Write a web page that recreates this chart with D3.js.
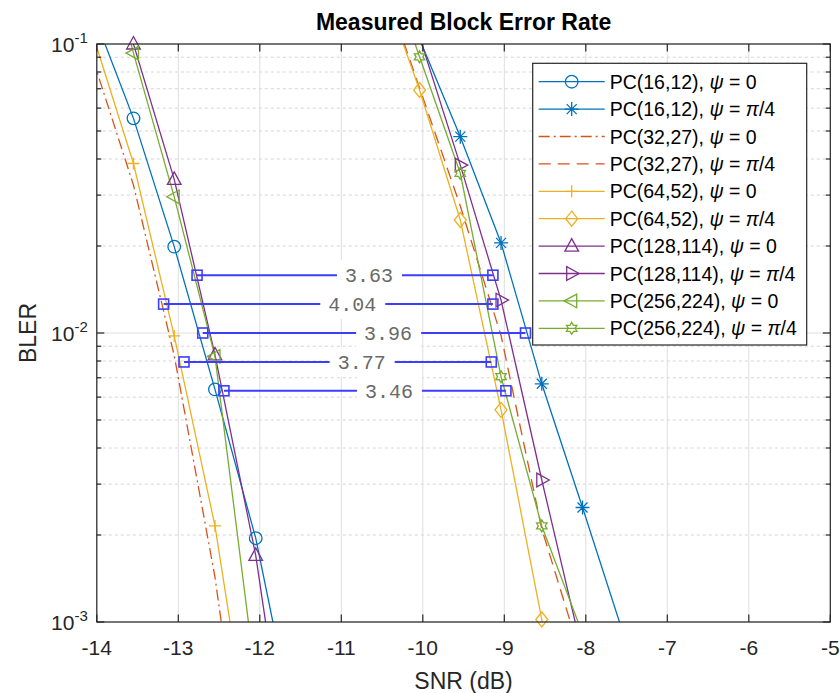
<!DOCTYPE html>
<html>
<head>
<meta charset="utf-8">
<script src="https://cdn.jsdelivr.net/npm/d3@7"></script>
<style>
  body { margin: 0; background: #fff; }
  svg { display: block; }
  text { font-family: "Liberation Sans", Arial, Helvetica, sans-serif; }
</style>
</head>
<body>
<svg id="chart" width="840" height="693"></svg>
<script>
// SNR sweep points (dB) for the two phase settings
const snrPsi0   = [-14.05, -13.55, -13.05, -12.55, -12.05, -11.55];
const snrPsiPi4 = [-10.54, -10.04, -9.54, -9.04, -8.54, -8.04, -7.54];

// Measured BLER per code and phase
const bler16Psi0    = [0.129, 0.0553, 0.0199, 0.00638, 0.00195, 0.0004];
const bler16PsiPi4  = [0.21, 0.104, 0.0478, 0.0205, 0.00667, 0.00249, 0.00091];
const bler32Psi0    = [0.089, 0.0325, 0.00836, 0.00143, 0.00014, 0.00002];
const bler32PsiPi4  = [0.18, 0.0705, 0.0275, 0.0098, 0.0021, 0.00073, 0.0002];
const bler64Psi0    = [0.108, 0.0386, 0.00977, 0.00215, 0.00027, 0.00003];
const bler64PsiPi4  = [0.174, 0.0693, 0.0246, 0.00542, 0.00102, 0.0002, 0.00004];
const bler128Psi0   = [0.295, 0.1, 0.034, 0.0084, 0.0017, 0.00019];
const bler128PsiPi4 = [0.29, 0.106, 0.0381, 0.0130, 0.0031, 0.00078, 0.0002];
const bler256Psi0   = [0.32, 0.093, 0.0296, 0.0083, 0.00063, 0.00005];
const bler256PsiPi4 = [0.232, 0.0903, 0.0357, 0.00706, 0.00215, 0.00091, 0.0004];

// SNR gap annotations: BLER level, left-curve SNR, gap in dB
const gapBler    = [0.01585, 0.01259, 0.01, 0.00794, 0.00631];
const gapSnrLeft = [-12.77, -13.18, -12.70, -12.93, -12.44];
const gapValues  = [3.63, 4.04, 3.96, 3.77, 3.46];

// Axis ticks
const xTicks = [-14, -13, -12, -11, -10, -9, -8, -7, -6, -5];
const yMajorTicks = [0.001, 0.01, 0.1];
const yTickExponents = ["-3", "-2", "-1"];

const codeNames = ["PC(16,12)", "PC(16,12)", "PC(32,27)", "PC(32,27)", "PC(64,52)", "PC(64,52)",
                   "PC(128,114)", "PC(128,114)", "PC(256,224)", "PC(256,224)"];
const psiLabels = ["0", "pi/4", "0", "pi/4", "0", "pi/4", "0", "pi/4", "0", "pi/4"];

const C = { blue: "#0072BD", orange: "#D95319", yellow: "#EDB120", purple: "#7E2F8E", green: "#77AC30" };

const series = [
  { snr: snrPsi0,   bler: bler16Psi0,    color: C.blue,   dash: null,         marker: "circle" },
  { snr: snrPsiPi4, bler: bler16PsiPi4,  color: C.blue,   dash: null,         marker: "asterisk" },
  { snr: snrPsi0,   bler: bler32Psi0,    color: C.orange, dash: "11,4,2,4",   marker: null },
  { snr: snrPsiPi4, bler: bler32PsiPi4,  color: C.orange, dash: "12,7",       marker: null },
  { snr: snrPsi0,   bler: bler64Psi0,    color: C.yellow, dash: null,         marker: "plus" },
  { snr: snrPsiPi4, bler: bler64PsiPi4,  color: C.yellow, dash: null,         marker: "diamond" },
  { snr: snrPsi0,   bler: bler128Psi0,   color: C.purple, dash: null,         marker: "triUp" },
  { snr: snrPsiPi4, bler: bler128PsiPi4, color: C.purple, dash: null,         marker: "triRight" },
  { snr: snrPsi0,   bler: bler256Psi0,   color: C.green,  dash: null,         marker: "triLeft" },
  { snr: snrPsiPi4, bler: bler256PsiPi4, color: C.green,  dash: null,         marker: "hexagram" }
].map((s, i) => ({ ...s, name: codeNames[i], psi: psiLabels[i],
                   points: s.snr.map((v, j) => [v, s.bler[j]]) }));

// Plot geometry
const plot = { left: 96.8, right: 830.3, top: 44, bottom: 622 };
const axisColor = "#262626";

const x = d3.scaleLinear().domain([-14, -5]).range([plot.left, plot.right]);
const y = d3.scaleLog().domain([1e-3, 1e-1]).range([plot.bottom, plot.top]);

const svg = d3.select("#chart");

svg.append("defs").append("clipPath").attr("id", "plotClip")
  .append("rect")
  .attr("x", plot.left).attr("y", plot.top)
  .attr("width", plot.right - plot.left).attr("height", plot.bottom - plot.top);

// Grid
const grid = svg.append("g");
const yAllTicks = y.ticks();
const isMajorY = v => yMajorTicks.includes(+v.toPrecision(3));
grid.selectAll("line.ygrid").data(yAllTicks.filter(v => !isMajorY(v)))
  .join("line")
  .attr("x1", plot.left).attr("x2", plot.right)
  .attr("y1", d => y(d)).attr("y2", d => y(d))
  .attr("stroke", "#d4d4d4").attr("stroke-width", 1).attr("stroke-dasharray", "3,3");
grid.selectAll("line.ymajor").data(yMajorTicks)
  .join("line")
  .attr("x1", plot.left).attr("x2", plot.right)
  .attr("y1", d => y(d)).attr("y2", d => y(d))
  .attr("stroke", "#dedede").attr("stroke-width", 1);
grid.selectAll("line.xgrid").data(xTicks)
  .join("line")
  .attr("x1", d => x(d)).attr("x2", d => x(d))
  .attr("y1", plot.top).attr("y2", plot.bottom)
  .attr("stroke", "#dedede").attr("stroke-width", 1);

// Marker shapes
function markerPath(type) {
  switch (type) {
    case "circle": return "M6.3,0A6.3,6.3 0 1,1 -6.3,0A6.3,6.3 0 1,1 6.3,0Z";
    case "asterisk": return "M-7,0H7M0,-7V7M-5,-5L5,5M-5,5L5,-5";
    case "plus": return "M-6,0H6M0,-6V6";
    case "diamond": return "M0,-7.5L6,0L0,7.5L-6,0Z";
    case "triUp": return "M0,-7.5L6.8,5L-6.8,5Z";
    case "triRight": return "M7.5,0L-5,-6.8L-5,6.8Z";
    case "triLeft": return "M-7.5,0L5,-6.8L5,6.8Z";
    case "hexagram": {
      let p = "";
      for (let k = 0; k < 12; k++) {
        const r = k % 2 === 0 ? 6 : 3.5;
        const a = -Math.PI / 2 + k * Math.PI / 6;
        p += (k === 0 ? "M" : "L") + (r * Math.cos(a)).toFixed(2) + "," + (r * Math.sin(a)).toFixed(2);
      }
      return p + "Z";
    }
  }
  return "";
}

// Curves
const line = d3.line().x(d => x(d[0])).y(d => y(d[1]));
const curves = svg.append("g").attr("clip-path", "url(#plotClip)");
series.forEach(s => {
  curves.append("path")
    .attr("d", line(s.points))
    .attr("fill", "none")
    .attr("stroke", s.color)
    .attr("stroke-width", 1.3)
    .attr("stroke-dasharray", s.dash);
});
const markers = svg.append("g");
series.forEach(s => {
  if (!s.marker) return;
  const inView = s.points.filter(p => p[1] <= 0.1 * 1.001 && p[1] >= 0.001 * 0.999 && p[0] >= -14 && p[0] <= -5);
  markers.selectAll(null).data(inView).join("path")
    .attr("transform", d => `translate(${x(d[0])},${y(d[1])})`)
    .attr("d", markerPath(s.marker))
    .attr("fill", "none")
    .attr("stroke", s.color)
    .attr("stroke-width", 1.3);
});

// SNR gap annotations
const annColor = "#3d3dff";
const ann = svg.append("g");
gapBler.forEach((b, i) => {
  const yy = y(b);
  const xl = x(gapSnrLeft[i]);
  const xr = x(gapSnrLeft[i] + gapValues[i]);
  ann.append("line")
    .attr("x1", xl).attr("x2", xr).attr("y1", yy).attr("y2", yy)
    .attr("stroke", annColor).attr("stroke-width", 2);
  const mid = (xl + xr) / 2;
  const bg = ann.append("rect");
  const t = ann.append("text")
    .attr("x", mid).attr("y", yy)
    .attr("dy", "0.35em")
    .attr("text-anchor", "start")
    .style("font-family", "'Liberation Mono', 'Courier New', monospace")
    .style("font-size", "20px")
    .attr("fill", "#6a6a6a")
    .text(gapValues[i].toFixed(2));
  const w = t.node().getComputedTextLength();
  bg.attr("x", mid - 8).attr("y", yy - 15).attr("width", w + 17).attr("height", 30).attr("fill", "#fff");
  [xl, xr].forEach(xx => {
    ann.append("rect")
      .attr("x", xx - 5).attr("y", yy - 5).attr("width", 10).attr("height", 10)
      .attr("fill", "none").attr("stroke", annColor).attr("stroke-width", 1.6);
  });
});

// Axes box and ticks
const axes = svg.append("g");
axes.append("rect")
  .attr("x", plot.left).attr("y", plot.top)
  .attr("width", plot.right - plot.left).attr("height", plot.bottom - plot.top)
  .attr("fill", "none").attr("stroke", axisColor).attr("stroke-width", 1.2);

const majorLen = 7.5, minorLen = 4.5;
xTicks.forEach(v => {
  axes.append("line").attr("x1", x(v)).attr("x2", x(v)).attr("y1", plot.bottom).attr("y2", plot.bottom - majorLen)
    .attr("stroke", axisColor).attr("stroke-width", 1.2);
  axes.append("line").attr("x1", x(v)).attr("x2", x(v)).attr("y1", plot.top).attr("y2", plot.top + majorLen)
    .attr("stroke", axisColor).attr("stroke-width", 1.2);
});
yAllTicks.forEach(v => {
  const len = isMajorY(v) ? majorLen : minorLen;
  axes.append("line").attr("x1", plot.left).attr("x2", plot.left + len).attr("y1", y(v)).attr("y2", y(v))
    .attr("stroke", axisColor).attr("stroke-width", 1.2);
  axes.append("line").attr("x1", plot.right).attr("x2", plot.right - len).attr("y1", y(v)).attr("y2", y(v))
    .attr("stroke", axisColor).attr("stroke-width", 1.2);
});

// Tick labels
axes.selectAll("text.xt").data(xTicks).join("text")
  .attr("x", d => x(d)).attr("y", plot.bottom + 33)
  .attr("text-anchor", "middle")
  .style("font-size", "21px").attr("fill", axisColor)
  .text(d => String(d));

yMajorTicks.forEach((v, i) => {
  const t = axes.append("text")
    .attr("x", plot.left - 9).attr("y", y(v) + 8)
    .attr("text-anchor", "end")
    .style("font-size", "21px").attr("fill", axisColor);
  t.append("tspan").text("10");
  t.append("tspan").attr("dy", -9).style("font-size", "15px").text(yTickExponents[i]);
});

// Axis labels and title
svg.append("text")
  .attr("x", (plot.left + plot.right) / 2).attr("y", 689)
  .attr("text-anchor", "middle").style("font-size", "23px").attr("fill", axisColor)
  .text("SNR (dB)");
svg.append("text")
  .attr("transform", `translate(36,${(plot.top + plot.bottom) / 2}) rotate(-90)`)
  .attr("text-anchor", "middle").style("font-size", "23px").attr("fill", axisColor)
  .text("BLER");
svg.append("text")
  .attr("x", (plot.left + plot.right) / 2).attr("y", 30)
  .attr("text-anchor", "middle").style("font-size", "23px").style("font-weight", "bold").attr("fill", "#000")
  .text("Measured Block Error Rate");

// Legend
const legend = svg.append("g");
const lg = { x: 532.7, y: 63.3, w: 274, h: 281.7, row0: 81.7, rowStep: 27.4 };
legend.append("rect")
  .attr("x", lg.x).attr("y", lg.y).attr("width", lg.w).attr("height", lg.h)
  .attr("fill", "#fff").attr("stroke", axisColor).attr("stroke-width", 1.2);
series.forEach((s, i) => {
  const yy = lg.row0 + i * lg.rowStep;
  legend.append("line")
    .attr("x1", lg.x + 6).attr("x2", lg.x + 72).attr("y1", yy).attr("y2", yy)
    .attr("stroke", s.color).attr("stroke-width", 1.3).attr("stroke-dasharray", s.dash);
  if (s.marker) {
    legend.append("path")
      .attr("transform", `translate(${lg.x + 39},${yy})`)
      .attr("d", markerPath(s.marker))
      .attr("fill", "none").attr("stroke", s.color).attr("stroke-width", 1.3);
  }
  const t = legend.append("text")
    .attr("x", lg.x + 77).attr("y", yy + 7)
    .style("font-size", "19.5px").attr("fill", "#000");
  t.append("tspan").text(s.name + ", ");
  t.append("tspan").style("font-style", "italic").text("\u03C8");
  if (s.psi === "0") {
    t.append("tspan").text(" = 0");
  } else {
    t.append("tspan").text(" = ");
    t.append("tspan").style("font-style", "italic").text("\u03C0");
    t.append("tspan").text("/4");
  }
});
</script>
</body>
</html>
